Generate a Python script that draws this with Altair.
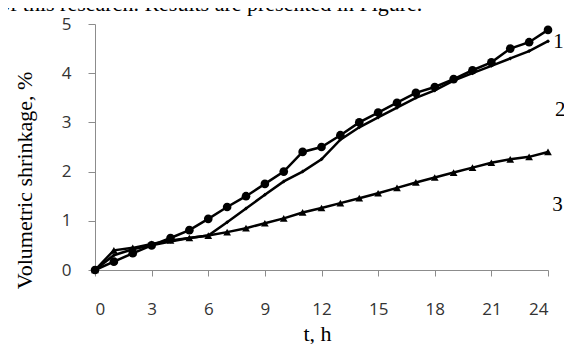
import altair as alt
import pandas as pd

hours = list(range(0, 25))
s1 = [0, 0.17, 0.34, 0.5, 0.65, 0.81, 1.04, 1.28, 1.5, 1.75, 2.0, 2.4, 2.5, 2.74, 3.0, 3.2, 3.4, 3.6, 3.72, 3.88, 4.06, 4.22, 4.5, 4.63, 4.88]
s2 = [0, 0.3, 0.42, 0.5, 0.58, 0.65, 0.7, 0.97, 1.25, 1.53, 1.8, 2.0, 2.25, 2.65, 2.9, 3.1, 3.3, 3.5, 3.65, 3.85, 4.0, 4.15, 4.3, 4.45, 4.65]
s3 = [0, 0.4, 0.45, 0.53, 0.6, 0.65, 0.7, 0.77, 0.85, 0.95, 1.05, 1.17, 1.26, 1.36, 1.46, 1.56, 1.67, 1.78, 1.88, 1.98, 2.08, 2.18, 2.25, 2.3, 2.4]
series_names = ["1", "2", "3"]
label_t = [24.55, 24.65, 24.5]
label_v = [4.63, 3.25, 1.32]
x_ticks = [0, 3, 6, 9, 12, 15, 18, 21, 24]
y_ticks = [0, 1, 2, 3, 4, 5]
top_text = "of this research. Results are presented in Figure."

rows = []
for name, vals in zip(series_names, [s1, s2, s3]):
    for t, v in zip(hours, vals):
        rows.append({"series": name, "t": t, "v": v})
df = pd.DataFrame(rows)
lab = pd.DataFrame({"series": series_names, "t": label_t, "v": label_v})

xs = alt.Scale(domain=[0, 24], nice=False, zero=False)
ys = alt.Scale(domain=[0, 5], nice=False)

x_axis = alt.Axis(values=x_ticks, title="t, h", grid=False, domainColor="#8c8c8c",
                  tickColor="#8c8c8c", tickSize=6, labelPadding=25, labelFont="Open Sans",
                  labelFontSize=17, labelColor="#333333", titleFont="Liberation Serif",
                  titleFontSize=22, titleFontWeight="normal", titleColor="#000000",
                  titleX=222, titleY=70, titleBaseline="alphabetic")
y_axis = alt.Axis(values=y_ticks, title="Volumetric shrinkage, %", grid=False,
                  domainColor="#8c8c8c", tickColor="#8c8c8c", tickSize=7, labelPadding=17,
                  labelFont="Open Sans", labelFontSize=17, labelColor="#333333",
                  titleFont="Liberation Serif", titleFontSize=22, titleFontWeight="normal",
                  titleColor="#000000", titleX=-71, titleY=156, titleBaseline="middle",
                  titleAngle=270)

base = alt.Chart(df)
lines = base.mark_line(color="black", strokeWidth=2.5).encode(
    x=alt.X("t:Q", scale=xs, axis=x_axis),
    y=alt.Y("v:Q", scale=ys, axis=y_axis),
    detail="series:N",
)
pts1 = base.transform_filter(alt.datum.series == "1").mark_point(
    shape="circle", filled=True, color="black", size=75, opacity=1
).encode(x=alt.X("t:Q", scale=xs), y=alt.Y("v:Q", scale=ys))
pts2 = base.transform_filter(alt.datum.series == "2").mark_point(
    shape="diamond", filled=True, color="black", size=16, opacity=1
).encode(x=alt.X("t:Q", scale=xs), y=alt.Y("v:Q", scale=ys))
pts3 = base.transform_filter(alt.datum.series == "3").mark_point(
    shape="triangle-up", filled=True, color="black", size=60, opacity=1
).encode(x=alt.X("t:Q", scale=xs), y=alt.Y("v:Q", scale=ys))

labels = alt.Chart(lab).mark_text(font="Liberation Serif", fontSize=21, color="black",
                                  align="center", baseline="middle").encode(
    x=alt.X("t:Q", scale=xs), y=alt.Y("v:Q", scale=ys), text="series:N"
)

top = alt.Chart(pd.DataFrame({"s": [top_text]})).mark_text(
    font="Liberation Serif", fontSize=22, color="black", align="left", baseline="alphabetic"
).encode(x=alt.value(-96), y=alt.value(-13), text="s:N")

chart = alt.layer(lines, pts1, pts2, pts3, labels, top).properties(
    width=453, height=246,
    autosize=alt.AutoSizeParams(type="none"),
    padding={"left": 87, "top": 16, "right": 16, "bottom": 74},
).configure_view(stroke=None)

chart.save("out.html", embed_options={"renderer": "svg", "actions": False})
